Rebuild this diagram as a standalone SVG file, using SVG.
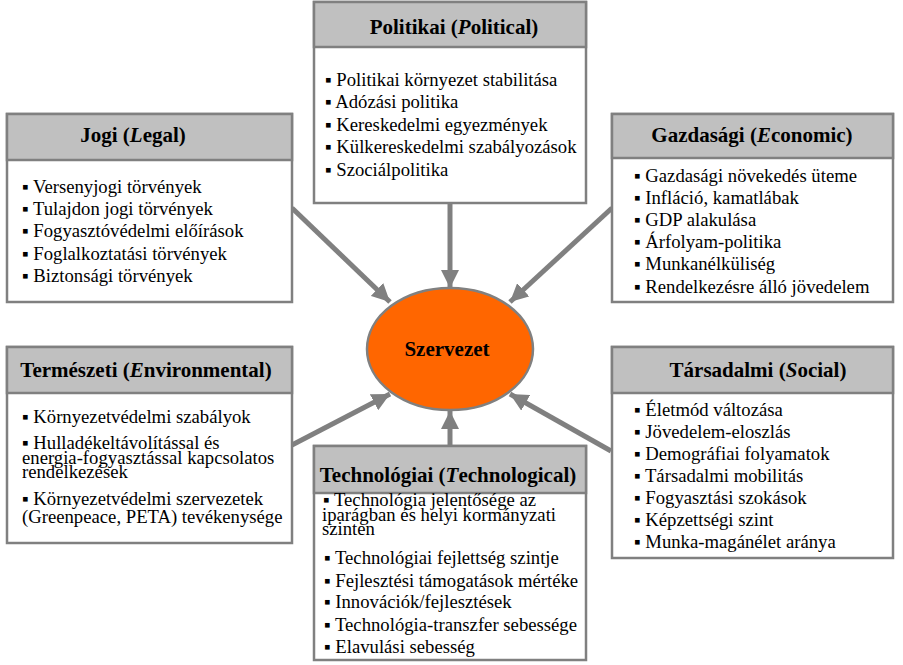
<svg xmlns="http://www.w3.org/2000/svg" width="903" height="665" viewBox="0 0 903 665">
<defs>
<style>
.box{fill:#ffffff;stroke:#808080;stroke-width:2.5}
.hdr{fill:#c0c0c0;stroke:#808080;stroke-width:2.5}
.ttl{font-family:"Liberation Serif","Times New Roman",serif;font-size:21px;font-weight:bold;fill:#000;text-anchor:middle}
.it{font-family:"Liberation Serif","Times New Roman",serif;font-size:18.7px;fill:#000}
.con{stroke:#808080;stroke-width:5;fill:none;marker-end:url(#ah)}
.ell{fill:#ff6600;stroke:#808080;stroke-width:2.5}
</style>
<marker id="ah" markerUnits="userSpaceOnUse" markerWidth="20" markerHeight="18" refX="18" refY="9" orient="auto">
<path d="M0,0 L18,9 L0,18 Z" fill="#808080"/>
</marker>
</defs>
<rect width="903" height="665" fill="#ffffff"/>

<g id="connectors">
<line class="con" x1="450" y1="204" x2="450" y2="288"/>
<line class="con" x1="292" y1="208" x2="390" y2="302"/>
<line class="con" x1="612" y1="208" x2="510" y2="302"/>
<line class="con" x1="292" y1="445" x2="390" y2="394"/>
<line class="con" x1="611" y1="451" x2="510" y2="394"/>
<line class="con" x1="450" y1="446" x2="450" y2="411"/>
</g>

<g id="node-center">
<ellipse class="ell" cx="450" cy="349" rx="83" ry="61"/>
<text class="ttl" x="447" y="356">Szervezet</text>
</g>

<g id="node-politikai">
<rect class="box" x="314" y="2" width="272" height="201"/>
<rect class="hdr" x="314" y="2" width="272" height="45"/>
<text class="ttl" x="454" y="34">Politikai (<tspan font-style="italic">P</tspan>olitical)</text>
<text class="it" x="325" y="86">▪ Politikai környezet stabilitása</text>
<text class="it" x="325" y="108">▪ Adózási politika</text>
<text class="it" x="325" y="131">▪ Kereskedelmi egyezmények</text>
<text class="it" x="325" y="153">▪ Külkereskedelmi szabályozások</text>
<text class="it" x="325" y="176">▪ Szociálpolitika</text>
</g>

<g id="node-jogi">
<rect class="box" x="7" y="114" width="285" height="188"/>
<rect class="hdr" x="7" y="114" width="285" height="46"/>
<text class="ttl" x="133" y="142">Jogi (<tspan font-style="italic">L</tspan>egal)</text>
<text class="it" x="22" y="193">▪ Versenyjogi törvények</text>
<text class="it" x="22" y="215">▪ Tulajdon jogi törvények</text>
<text class="it" x="22" y="237">▪ Fogyasztóvédelmi előírások</text>
<text class="it" x="22" y="260">▪ Foglalkoztatási törvények</text>
<text class="it" x="22" y="282">▪ Biztonsági törvények</text>
</g>

<g id="node-gazdasagi">
<rect class="box" x="612" y="114" width="281" height="188"/>
<rect class="hdr" x="612" y="114" width="281" height="44"/>
<text class="ttl" x="752" y="142">Gazdasági (<tspan font-style="italic">E</tspan>conomic)</text>
<text class="it" x="634" y="182">▪ Gazdasági növekedés üteme</text>
<text class="it" x="634" y="204">▪ Infláció, kamatlábak</text>
<text class="it" x="634" y="226">▪ GDP alakulása</text>
<text class="it" x="634" y="248">▪ Árfolyam-politika</text>
<text class="it" x="634" y="270">▪ Munkanélküliség</text>
<text class="it" x="634" y="293">▪ Rendelkezésre álló jövedelem</text>
</g>

<g id="node-termeszeti">
<rect class="box" x="7" y="347" width="285" height="196"/>
<rect class="hdr" x="7" y="347" width="285" height="46"/>
<text class="ttl" x="146" y="377">Természeti (<tspan font-style="italic">E</tspan>nvironmental)</text>
<text class="it" x="22" y="423">▪ Környezetvédelmi szabályok</text>
<text class="it" x="22" y="449">▪ Hulladékeltávolítással és</text>
<text class="it" x="22" y="464">energia-fogyasztással kapcsolatos</text>
<text class="it" x="22" y="478">rendelkezések</text>
<text class="it" x="22" y="505">▪ Környezetvédelmi szervezetek</text>
<text class="it" x="22" y="523">(Greenpeace, PETA) tevékenysége</text>
</g>

<g id="node-tarsadalmi">
<rect class="box" x="612" y="347" width="281" height="211"/>
<rect class="hdr" x="612" y="347" width="281" height="46"/>
<text class="ttl" x="758" y="377">Társadalmi (<tspan font-style="italic">S</tspan>ocial)</text>
<text class="it" x="634" y="416">▪ Életmód változása</text>
<text class="it" x="634" y="438">▪ Jövedelem-eloszlás</text>
<text class="it" x="634" y="460">▪ Demográfiai folyamatok</text>
<text class="it" x="634" y="482">▪ Társadalmi mobilitás</text>
<text class="it" x="634" y="504">▪ Fogyasztási szokások</text>
<text class="it" x="634" y="526">▪ Képzettségi szint</text>
<text class="it" x="634" y="548">▪ Munka-magánélet aránya</text>
</g>

<g id="node-technologiai">
<rect class="box" x="314" y="446" width="272" height="214"/>
<rect class="hdr" x="314" y="446" width="272" height="47"/>
<text class="ttl" x="448" y="482">Technológiai (<tspan font-style="italic">T</tspan>echnological)</text>
<text class="it" x="323" y="506">▪ Technológia jelentősége az</text>
<text class="it" x="322" y="521">iparágban és helyi kormányzati</text>
<text class="it" x="322" y="535">szinten</text>
<text class="it" x="324" y="564">▪ Technológiai fejlettség szintje</text>
<text class="it" x="324" y="587">▪ Fejlesztési támogatások mértéke</text>
<text class="it" x="324" y="608">▪ Innovációk/fejlesztések</text>
<text class="it" x="324" y="631">▪ Technológia-transzfer sebessége</text>
<text class="it" x="324" y="653">▪ Elavulási sebesség</text>
</g>
</svg>
